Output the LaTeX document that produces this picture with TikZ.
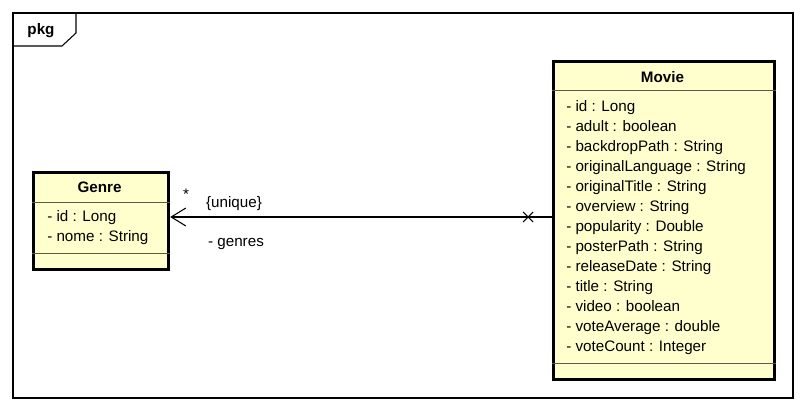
\documentclass[tikz,border=0pt]{standalone}
\usepackage{fontspec}
\setmainfont{Liberation Sans}
\usetikzlibrary{positioning,arrows.meta}
\definecolor{classfill}{RGB}{255,255,206}
\definecolor{sepline}{RGB}{90,90,70}

\begin{document}
\begin{tikzpicture}[x=0.75pt,y=-0.75pt,font=\fontsize{11.4}{13}\selectfont,
	classbox/.style={draw,line width=2.4pt,fill=classfill,inner sep=0pt,anchor=north west},
	title/.style={font=\fontsize{11.4}{13}\selectfont\bfseries,inner sep=0pt,text height=8.2pt,text depth=2.4pt},
	attr/.style={anchor=west,inner sep=0pt,text height=8.2pt,text depth=2.4pt},
	sep/.style={draw=sepline,line width=0.7pt},
	role/.style={inner sep=0pt,text height=8.2pt,text depth=2.4pt}]
		\useasboundingbox (0,0) rectangle (806,410);
		% package frame
		\draw[line width=0.8pt] (13,13) rectangle (793,398);
		\draw[line width=0.8pt] (13,46) -- (62,46) -- (76,33) -- (76,13);
		\node[title] (pkg) at (41,31) {pkg};
		%
		\node[classbox,minimum width=101.25pt,minimum height=72.75pt] (genre) at (32,171) {};
		\node[title] (genretitle) at (99.5,189) {Genre};
		\draw[sep] (genre.west |- 0,202) -- (genre.east |- 0,202);
		\draw[sep] (genre.west |- 0,253) -- (genre.east |- 0,253);
		\node[attr] (g1) at (47,218) {- id : Long};
		\node[attr] (g2) at (47,238) {- nome : String};
		%
		\node[classbox,minimum width=165.75pt,minimum height=238.5pt] (movie) at (552,60) {};
		\node[title] (movietitle) at (662.5,78.5) {Movie};
		\draw[sep] (movie.west |- 0,90) -- (movie.east |- 0,90);
		\draw[sep] (movie.west |- 0,363) -- (movie.east |- 0,363);
		\foreach \txt [count=\i from 0] in {- id : Long,- adult : boolean,- backdropPath : String,
			- originalLanguage : String,- originalTitle : String,- overview : String,
			- popularity : Double,- posterPath : String,- releaseDate : String,
			- title : String,- video : boolean,- voteAverage : double,- voteCount : Integer}
			\node[attr] (m\i) at (566,{108+20*\i}) {\txt};
		%
		\coordinate (navx) at (528,217);
		\draw[line width=0.8pt,-{Straight Barb[length=11pt,width=13.5pt,line width=0.8pt]}]
			(movie.west |- navx) -- (genre.east |- navx);
		\draw[line width=0.8pt] (navx) +(-5,-5) -- +(5,5) (navx) +(-5,5) -- +(5,-5);
		\node[role] (mult) at (186,196) {*};
		\node[role] (uniq) at (234,204) {\{unique\}};
		\node[role] (genres) at (236,243) {- genres};
\end{tikzpicture}
\end{document}
